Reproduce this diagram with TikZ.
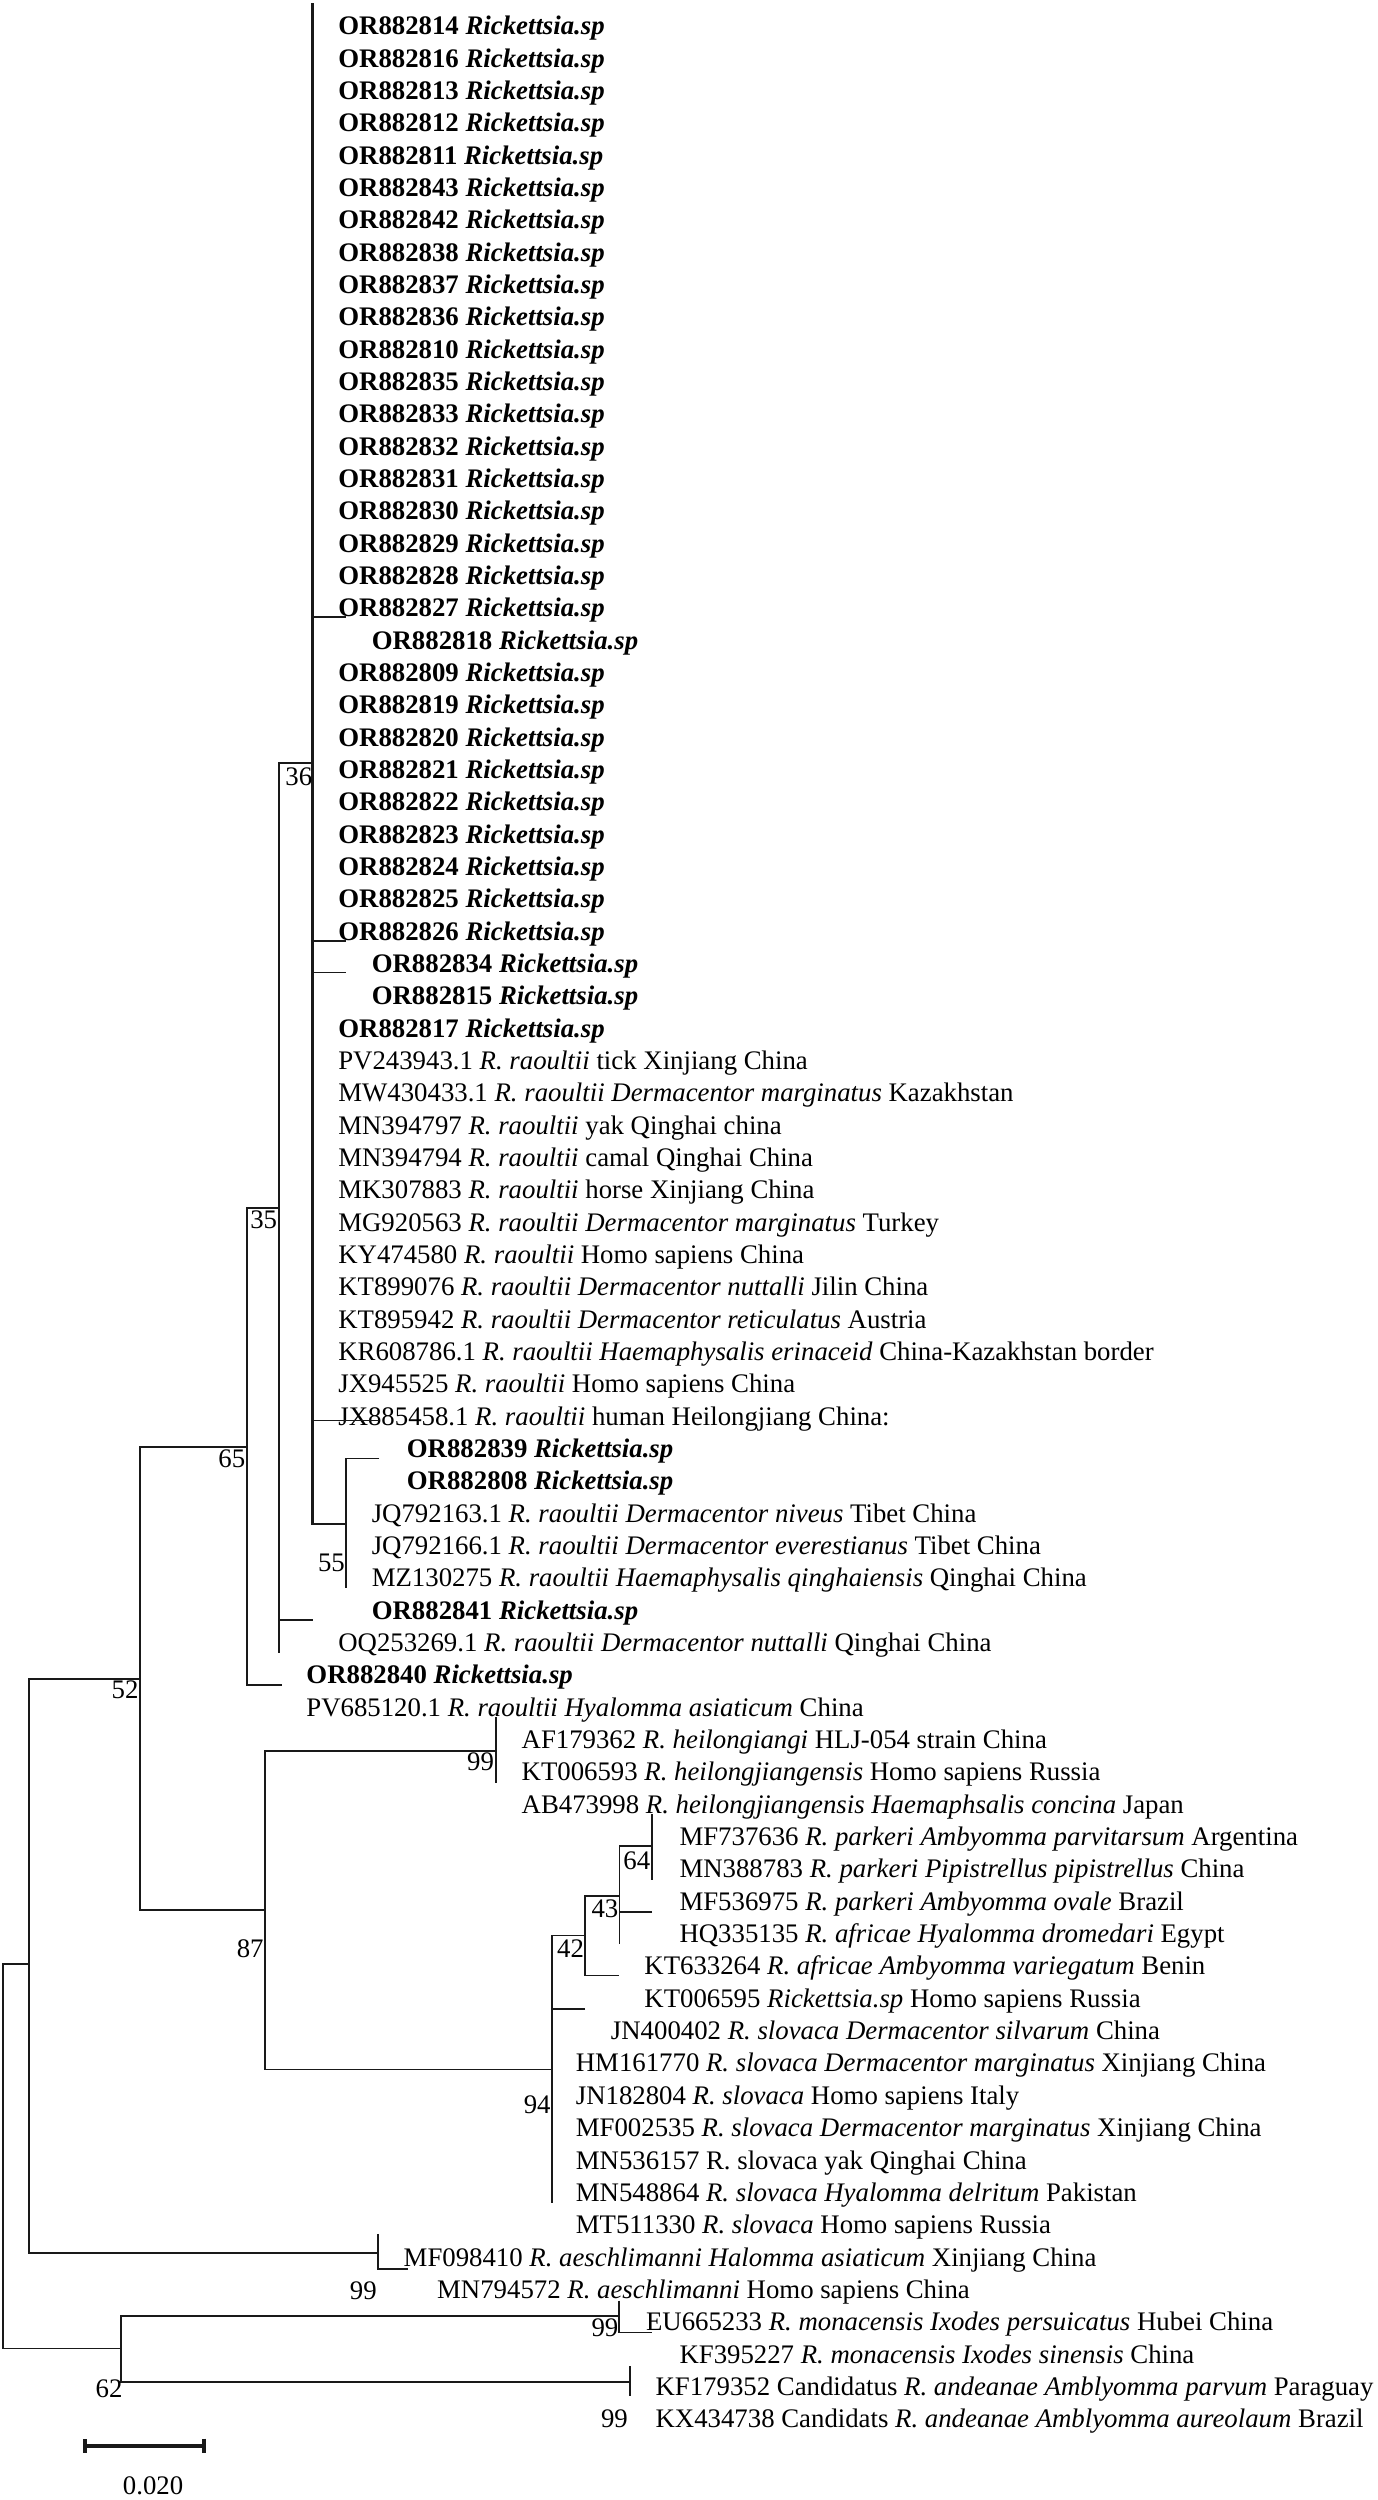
\documentclass[tikz,border=0pt]{standalone}
\usepackage{fontspec}
\setmainfont{Liberation Serif}
\usepackage{tikz}
\usetikzlibrary{arrows.meta}

\begin{document}
\begin{tikzpicture}[x=1pt,y=-1pt,
  branch/.style={draw=black!90,line width=1.1pt},
  trunk/.style={draw=black!90,line width=1.4pt},
  lab/.style={anchor=base west,inner sep=0pt,font=\fontsize{16.8}{20}\selectfont},
  orlab/.style={lab,font=\fontsize{16.8}{20}\selectfont\bfseries},
  boot/.style={anchor=east,inner sep=0pt,font=\fontsize{16.8}{20}\selectfont}]
  \useasboundingbox (0,0) rectangle (864,1568);

  % isolates of this study
  \node[orlab] (or814) at (212,21.9) {OR882814 \textit{Rickettsia.sp}};
  \node[orlab] (or816) at (212,42.18) {OR882816 \textit{Rickettsia.sp}};
  \node[orlab] (or813) at (212,62.46) {OR882813 \textit{Rickettsia.sp}};
  \node[orlab] (or812) at (212,82.74) {OR882812 \textit{Rickettsia.sp}};
  \node[orlab] (or811) at (212,103.02) {OR882811 \textit{Rickettsia.sp}};
  \node[orlab] (or843) at (212,123.3) {OR882843 \textit{Rickettsia.sp}};
  \node[orlab] (or842) at (212,143.58) {OR882842 \textit{Rickettsia.sp}};
  \node[orlab] (or838) at (212,163.86) {OR882838 \textit{Rickettsia.sp}};
  \node[orlab] (or837) at (212,184.14) {OR882837 \textit{Rickettsia.sp}};
  \node[orlab] (or836) at (212,204.42) {OR882836 \textit{Rickettsia.sp}};
  \node[orlab] (or810) at (212,224.7) {OR882810 \textit{Rickettsia.sp}};
  \node[orlab] (or835) at (212,244.98) {OR882835 \textit{Rickettsia.sp}};
  \node[orlab] (or833) at (212,265.26) {OR882833 \textit{Rickettsia.sp}};
  \node[orlab] (or832) at (212,285.54) {OR882832 \textit{Rickettsia.sp}};
  \node[orlab] (or831) at (212,305.82) {OR882831 \textit{Rickettsia.sp}};
  \node[orlab] (or830) at (212,326.1) {OR882830 \textit{Rickettsia.sp}};
  \node[orlab] (or829) at (212,346.38) {OR882829 \textit{Rickettsia.sp}};
  \node[orlab] (or828) at (212,366.66) {OR882828 \textit{Rickettsia.sp}};
  \node[orlab] (or827) at (212,386.94) {OR882827 \textit{Rickettsia.sp}};
  \node[orlab] (or818) at (233,407.22) {OR882818 \textit{Rickettsia.sp}};
  \node[orlab] (or809) at (212,427.5) {OR882809 \textit{Rickettsia.sp}};
  \node[orlab] (or819) at (212,447.78) {OR882819 \textit{Rickettsia.sp}};
  \node[orlab] (or820) at (212,468.06) {OR882820 \textit{Rickettsia.sp}};
  \node[orlab] (or821) at (212,488.34) {OR882821 \textit{Rickettsia.sp}};
  \node[orlab] (or822) at (212,508.62) {OR882822 \textit{Rickettsia.sp}};
  \node[orlab] (or823) at (212,528.9) {OR882823 \textit{Rickettsia.sp}};
  \node[orlab] (or824) at (212,549.18) {OR882824 \textit{Rickettsia.sp}};
  \node[orlab] (or825) at (212,569.46) {OR882825 \textit{Rickettsia.sp}};
  \node[orlab] (or826) at (212,589.74) {OR882826 \textit{Rickettsia.sp}};
  \node[orlab] (or834) at (233,610.02) {OR882834 \textit{Rickettsia.sp}};
  \node[orlab] (or815) at (233,630.3) {OR882815 \textit{Rickettsia.sp}};
  \node[orlab] (or817) at (212,650.58) {OR882817 \textit{Rickettsia.sp}};

  % R. raoultii references
  \node[lab] (pv243943) at (212,670.86) {PV243943.1 \textit{R. raoultii} tick Xinjiang China};
  \node[lab] (mw430433) at (212,691.14) {MW430433.1 \textit{R. raoultii Dermacentor marginatus} Kazakhstan};
  \node[lab] (mn394797) at (212,711.42) {MN394797 \textit{R. raoultii} yak Qinghai china};
  \node[lab] (mn394794) at (212,731.7) {MN394794 \textit{R. raoultii} camal Qinghai China};
  \node[lab] (mk307883) at (212,751.98) {MK307883 \textit{R. raoultii} horse Xinjiang China};
  \node[lab] (mg920563) at (212,772.26) {MG920563 \textit{R. raoultii Dermacentor marginatus} Turkey};
  \node[lab] (ky474580) at (212,792.54) {KY474580 \textit{R. raoultii} Homo sapiens China};
  \node[lab] (kt899076) at (212,812.82) {KT899076 \textit{R. raoultii Dermacentor nuttalli} Jilin China};
  \node[lab] (kt895942) at (212,833.1) {KT895942 \textit{R. raoultii Dermacentor reticulatus} Austria};
  \node[lab] (kr608786) at (212,853.38) {KR608786.1 \textit{R. raoultii Haemaphysalis erinaceid} China-Kazakhstan border};
  \node[lab] (jx945525) at (212,873.66) {JX945525 \textit{R. raoultii} Homo sapiens China};
  \node[lab] (jx885458) at (212,893.94) {JX885458.1 \textit{R. raoultii} human Heilongjiang China:};
  \node[orlab] (or839) at (255,914.22) {OR882839 \textit{Rickettsia.sp}};
  \node[orlab] (or808) at (255,934.5) {OR882808 \textit{Rickettsia.sp}};
  \node[lab] (jq792163) at (233,954.78) {JQ792163.1 \textit{R. raoultii Dermacentor niveus} Tibet China};
  \node[lab] (jq792166) at (233,975.06) {JQ792166.1 \textit{R. raoultii Dermacentor everestianus} Tibet China};
  \node[lab] (mz130275) at (233,995.34) {MZ130275 \textit{R. raoultii Haemaphysalis qinghaiensis} Qinghai China};
  \node[orlab] (or841) at (233,1015.62) {OR882841 \textit{Rickettsia.sp}};
  \node[lab] (oq253269) at (212,1035.9) {OQ253269.1 \textit{R. raoultii Dermacentor nuttalli} Qinghai China};
  \node[orlab] (or840) at (192,1056.18) {OR882840 \textit{Rickettsia.sp}};
  \node[lab] (pv685120) at (192,1076.46) {PV685120.1 \textit{R. raoultii Hyalomma asiaticum} China};

  % other spotted fever group
  \node[lab] (af179362) at (327,1096.74) {AF179362 \textit{R. heilongiangi} HLJ-054 strain China};
  \node[lab] (kt006593) at (327,1117.02) {KT006593 \textit{R. heilongjiangensis} Homo sapiens Russia};
  \node[lab] (ab473998) at (327,1137.3) {AB473998 \textit{R. heilongjiangensis Haemaphsalis concina} Japan};
  \node[lab] (mf737636) at (426,1157.58) {MF737636 \textit{R. parkeri Ambyomma parvitarsum} Argentina};
  \node[lab] (mn388783) at (426,1177.86) {MN388783 \textit{R. parkeri Pipistrellus pipistrellus} China};
  \node[lab] (mf536975) at (426,1198.14) {MF536975 \textit{R. parkeri Ambyomma ovale} Brazil};
  \node[lab] (hq335135) at (426,1218.42) {HQ335135 \textit{R. africae Hyalomma dromedari} Egypt};
  \node[lab] (kt633264) at (404,1238.7) {KT633264 \textit{R. africae Ambyomma variegatum} Benin};
  \node[lab] (kt006595) at (404,1258.98) {KT006595 \textit{Rickettsia.sp} Homo sapiens Russia};
  \node[lab] (jn400402) at (383,1279.26) {JN400402 \textit{R. slovaca Dermacentor silvarum} China};
  \node[lab] (hm161770) at (361,1299.54) {HM161770 \textit{R. slovaca Dermacentor marginatus} Xinjiang China};
  \node[lab] (jn182804) at (361,1319.82) {JN182804 \textit{R. slovaca} Homo sapiens Italy};
  \node[lab] (mf002535) at (361,1340.1) {MF002535 \textit{R. slovaca Dermacentor marginatus} Xinjiang China};
  \node[lab] (mn536157) at (361,1360.38) {MN536157 R. slovaca yak Qinghai China};
  \node[lab] (mn548864) at (361,1380.66) {MN548864 \textit{R. slovaca Hyalomma delritum} Pakistan};
  \node[lab] (mt511330) at (361,1400.94) {MT511330 \textit{R. slovaca} Homo sapiens Russia};
  \node[lab] (mf098410) at (253,1421.22) {MF098410 \textit{R. aeschlimanni Halomma asiaticum} Xinjiang China};
  \node[lab] (mn794572) at (274,1441.5) {MN794572 \textit{R. aeschlimanni} Homo sapiens China};
  \node[lab] (eu665233) at (405,1461.78) {EU665233 \textit{R. monacensis Ixodes persuicatus} Hubei China};
  \node[lab] (kf395227) at (426,1482.06) {KF395227 \textit{R. monacensis Ixodes sinensis} China};
  \node[lab] (kf179352) at (411,1502.34) {KF179352 Candidatus \textit{R. andeanae Amblyomma parvum} Paraguay};
  \node[lab] (kx434738) at (411,1522.62) {KX434738 Candidats \textit{R. andeanae Amblyomma aureolaum} Brazil};

  % tree joints and tip ends
  \coordinate (top36) at (196,2);
  \coordinate (n36) at (196,478.6);
  \coordinate (e827) at (217,387);
  \coordinate (e826) at (217,590);
  \coordinate (e834) at (217,610);
  \coordinate (e458) at (238,891);
  \coordinate (n55) at (217,955.7);
  \coordinate (e839) at (238,914.7);
  \coordinate (e275) at (217,996);
  \coordinate (n35) at (175,757.5);
  \coordinate (e253) at (175,1037);
  \coordinate (e841) at (196,1016);
  \coordinate (n65) at (155,907.6);
  \coordinate (e840) at (177,1057);
  \coordinate (n52) at (87.6,1053);
  \coordinate (n87) at (166,1198);
  \coordinate (n99) at (311,1098);
  \coordinate (e362) at (311,1077);
  \coordinate (e593) at (311,1118);
  \coordinate (n94) at (346,1298);
  \coordinate (e864) at (346,1382);
  \coordinate (n42) at (367,1214);
  \coordinate (e595) at (367,1260);
  \coordinate (n43) at (388.5,1189);
  \coordinate (e264) at (388.5,1239);
  \coordinate (e135) at (388.5,1219);
  \coordinate (n64) at (409,1158);
  \coordinate (e975) at (409,1199);
  \coordinate (e636) at (409,1138);
  \coordinate (e783) at (409,1179);
  \coordinate (nA) at (18,1232);
  \coordinate (nAes) at (237,1413);
  \coordinate (eAesT) at (237,1401);
  \coordinate (e410) at (256,1423);
  \coordinate (nRoot) at (2,1350);
  \coordinate (n62) at (76,1473);
  \coordinate (nMon) at (388,1452.5);
  \coordinate (eMonT) at (388,1443);
  \coordinate (e233) at (409,1463);
  \coordinate (nAnd) at (395,1494);
  \coordinate (eAndT) at (395,1484);
  \coordinate (eAndB) at (395,1503);

  % branches
  \draw[trunk] (top36) -- (n36) |- (n55);
  \draw[branch] (e827) -- (e827 -| n36);
  \draw[branch] (e826) -- (e826 -| n36);
  \draw[branch] (e834) -- (e834 -| n36);
  \draw[branch] (e458) -- (e458 -| n36);
  \draw[branch] (e839) -| (e275);
  \draw[branch] (n36) -| (e253);
  \draw[branch] (e841) -- (e841 -| n35);
  \draw[branch] (n35) -| (n65) |- (e840);
  \draw[branch] (n65) -| (n52) |- (n87);
  \draw[branch] (n52) -| (nA) |- (nAes);
  \draw[branch] (nA) -| (nRoot) |- (n62);
  \draw[branch] (eAesT) |- (e410);
  \draw[branch] (nMon) -| (n62) |- (nAnd);
  \draw[branch] (eMonT) |- (e233);
  \draw[branch] (eAndT) -- (eAndB);
  \draw[branch] (n99) -| (n87) |- (n94);
  \draw[branch] (e362) -- (e593);
  \draw[branch] (n42) -| (e864);
  \draw[branch] (e595) -- (e595 -| n94);
  \draw[branch] (n43) -| (n42) |- (e264);
  \draw[branch] (n64) -| (e135);
  \draw[branch] (e975) -- (e975 -| n43);
  \draw[branch] (e636) -- (e783);

  % bootstrap values
  \node[boot] (b36) at (196,487) {36};
  \node[boot] (b35) at (174,765) {35};
  \node[boot] (b65) at (154,915) {65};
  \node[boot] (b55) at (216.5,980) {55};
  \node[boot] (b52) at (87,1060) {52};
  \node[boot] (b99h) at (310,1105) {99};
  \node[boot] (b87) at (165.5,1222) {87};
  \node[boot] (b64) at (408,1167) {64};
  \node[boot] (b43) at (388,1197) {43};
  \node[boot] (b42) at (366.5,1222) {42};
  \node[boot] (b94) at (345.5,1320) {94};
  \node[boot] (b99a) at (236.5,1437) {99};
  \node[boot] (b99m) at (388,1460) {99};
  \node[boot] (b99c) at (394,1517) {99};
  \node[boot] (b62) at (77,1498) {62};

  % scale bar
  \coordinate (sb0) at (52,1534);
  \coordinate (sb1) at (129.5,1534);
  \draw[draw=black!90,line width=2.6pt,{Bar[width=9pt]}-{Bar[width=9pt]}] (sb0) -- (sb1);
  \node[boot,anchor=center] (sblab) at (96,1559) {0.020};
\end{tikzpicture}
\end{document}
